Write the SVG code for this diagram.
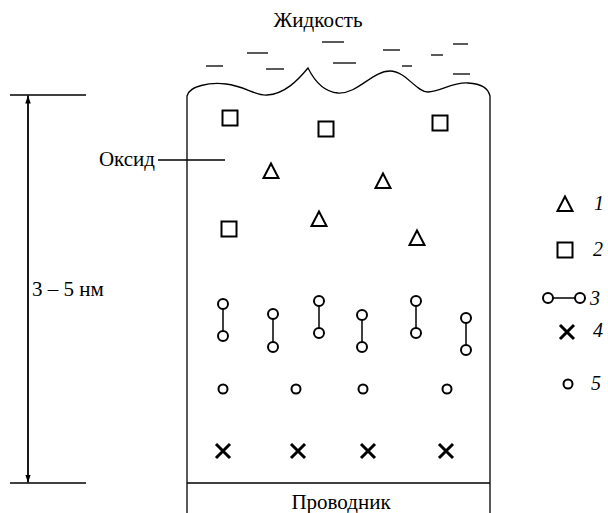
<svg xmlns="http://www.w3.org/2000/svg" width="608" height="513" viewBox="0 0 608 513">
  <style>
    text { font-family: 'Liberation Serif', 'Times New Roman', serif; font-size: 21px; fill: #000; }
    .ti { font-style: italic; font-size: 20px; }
    .ln { stroke: #000; stroke-width: 1.3; fill: none; }
    .sym { stroke: #000; stroke-width: 2; fill: #fff; }
    .x { stroke: #000; stroke-width: 3; fill: none; }
    .dash { stroke: #000; stroke-width: 1.3; }
  </style>
  <defs>
    <marker id="arr" viewBox="0 0 10 10" refX="10" refY="5" markerWidth="8" markerHeight="8" markerUnits="userSpaceOnUse" orient="auto">
      <path d="M0,1.5 L10,5 L0,8.5 Z" fill="#000"/>
    </marker>
    <rect id="sq" x="-7.5" y="-7.5" width="15" height="15" class="sym"/>
    <path id="tri" d="M0,-7.5 L7.5,7 L-7.5,7 Z" class="sym"/>
    <circle id="ball" r="5" class="sym"/>
    <circle id="dot" r="4.5" class="sym"/>
    <path id="cross" d="M-7,-7 L7,7 M7,-7 L-7,7" class="x"/>
  </defs>

  <!-- liquid -->
  <g id="liquid">
    <text x="318" y="27" text-anchor="middle">Жидкость</text>
    <line class="dash" x1="206" y1="66" x2="223" y2="66"/>
    <line class="dash" x1="247" y1="53" x2="268" y2="53"/>
    <line class="dash" x1="266" y1="69" x2="284" y2="69"/>
    <line class="dash" x1="322" y1="42" x2="344" y2="42"/>
    <line class="dash" x1="333" y1="63" x2="356" y2="63"/>
    <line class="dash" x1="383" y1="50" x2="400" y2="50"/>
    <line class="dash" x1="402" y1="66" x2="412" y2="66"/>
    <line class="dash" x1="431" y1="55" x2="443" y2="55"/>
    <line class="dash" x1="453" y1="44" x2="468" y2="44"/>
    <line class="dash" x1="453" y1="74" x2="470" y2="74"/>
  </g>

  <!-- oxide layer with wavy top -->
  <g id="oxide">
    <path class="ln" d="M187,513 L187,96 C189,86 210,82 226,84 C245,86 255,96 267,95 C285,94 298,80 308,68 C316,84 325,92 338,93 C358,94 372,71 390,71 C406,71 416,92 428,92 C440,92 452,82 468,83 C482,84 488,88 490,96 L490,513"/>
  </g>
  <g id="conductor">
    <line class="ln" x1="187" y1="483" x2="490" y2="483"/>
    <text x="341" y="509" text-anchor="middle">Проводник</text>
  </g>

  <!-- oxide label -->
  <g id="oxide-label">
    <text x="155" y="166" text-anchor="end">Оксид</text>
    <line class="ln" x1="158" y1="160" x2="225" y2="160"/>
  </g>

  <!-- thickness dimension -->
  <g id="dimension">
    <line class="ln" x1="10" y1="95" x2="86" y2="95"/>
    <line class="ln" x1="10" y1="483" x2="86" y2="483"/>
    <line stroke="#000" stroke-width="1.8" x1="28" y1="289" x2="28" y2="95.5" marker-end="url(#arr)"/>
    <line stroke="#000" stroke-width="1.8" x1="28" y1="289" x2="28" y2="482.5" marker-end="url(#arr)"/>
    <text x="32" y="296">3 – 5 нм</text>
  </g>

  <!-- squares -->
  <g id="squares">
    <use href="#sq" x="230" y="118"/>
    <use href="#sq" x="326" y="129"/>
    <use href="#sq" x="440" y="123"/>
    <use href="#sq" x="229" y="229"/>
  </g>

  <!-- triangles -->
  <g id="triangles">
    <use href="#tri" x="271" y="171"/>
    <use href="#tri" x="383" y="181"/>
    <use href="#tri" x="319" y="219"/>
    <use href="#tri" x="417" y="238"/>
  </g>

  <!-- pairs -->
  <g id="pairs">
    <g stroke="#000" stroke-width="1.5">
      <line x1="223" y1="304" x2="223" y2="336"/>
      <line x1="273" y1="314" x2="273" y2="347"/>
      <line x1="319" y1="301" x2="319" y2="333"/>
      <line x1="362" y1="315" x2="362" y2="347"/>
      <line x1="416" y1="301" x2="416" y2="333"/>
      <line x1="466" y1="318" x2="466" y2="350"/>
    </g>
    <use href="#ball" x="223" y="304"/><use href="#ball" x="223" y="336"/>
    <use href="#ball" x="273" y="314"/><use href="#ball" x="273" y="347"/>
    <use href="#ball" x="319" y="301"/><use href="#ball" x="319" y="333"/>
    <use href="#ball" x="362" y="315"/><use href="#ball" x="362" y="347"/>
    <use href="#ball" x="416" y="301"/><use href="#ball" x="416" y="333"/>
    <use href="#ball" x="466" y="318"/><use href="#ball" x="466" y="350"/>
  </g>

  <!-- small circles -->
  <g id="dots">
    <use href="#dot" x="223" y="389"/>
    <use href="#dot" x="296" y="389"/>
    <use href="#dot" x="363" y="389"/>
    <use href="#dot" x="447" y="389"/>
  </g>

  <!-- crosses -->
  <g id="crosses">
    <use href="#cross" x="223" y="451"/>
    <use href="#cross" x="298" y="451"/>
    <use href="#cross" x="368" y="451"/>
    <use href="#cross" x="446" y="451"/>
  </g>

  <!-- legend -->
  <g id="legend">
    <use href="#tri" x="565" y="204"/>
    <text class="ti" x="594" y="210">1</text>
    <use href="#sq" x="565" y="250"/>
    <text class="ti" x="593" y="256">2</text>
    <line stroke="#000" stroke-width="1.5" x1="548" y1="298" x2="580" y2="298"/>
    <use href="#ball" x="548" y="298"/>
    <use href="#ball" x="580" y="298"/>
    <text class="ti" x="590" y="305">3</text>
    <use href="#cross" x="567" y="332"/>
    <text class="ti" x="593" y="337">4</text>
    <use href="#dot" x="568" y="384"/>
    <text class="ti" x="591" y="390">5</text>
  </g>
</svg>
